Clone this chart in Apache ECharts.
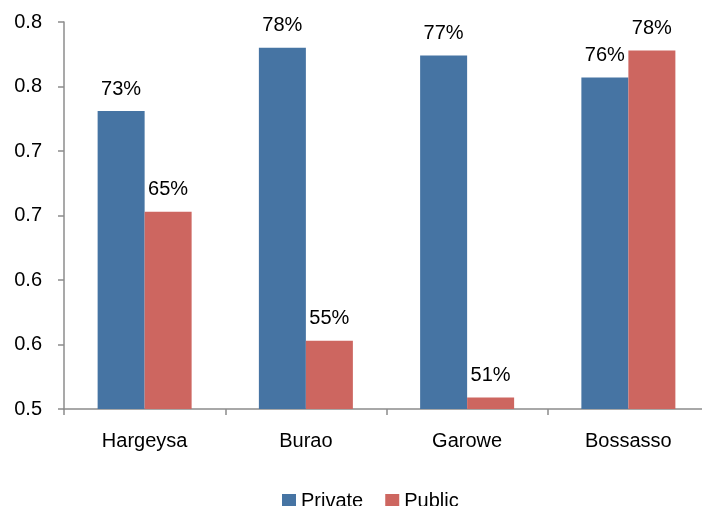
<!DOCTYPE html>
<html><head><meta charset="utf-8">
<script src="https://cdn.jsdelivr.net/npm/echarts@6/dist/echarts.min.js"></script>
<style>html,body{margin:0;padding:0;background:#fff}#c{width:702px;height:506px}</style>
</head><body><div id="c"></div>
<script>
const categories = ['Hargeysa', 'Burao', 'Garowe', 'Bossasso'];
const privateVals = [0.731, 0.780, 0.774, 0.757];
const publicVals = [0.653, 0.553, 0.509, 0.778];
const yTickLabels = ['0.5', '0.6', '0.6', '0.7', '0.7', '0.8', '0.8'];
const seriesNames = ['Private', 'Public'];

const font = 'Liberation Sans, Arial, sans-serif';
const chart = echarts.init(document.getElementById('c'), null, {renderer: 'canvas'});
const lbl = {
  show: true, position: 'top', distance: 12, color: '#000', fontSize: 20, fontFamily: font,
  formatter: p => Math.round(p.value * 100) + '%'
};
chart.setOption({
  animation: false,
  grid: {left: 64, top: 22, width: 645, height: 387, containLabel: false, outerBoundsMode: 'none'},
  legend: {
    top: 486, left: 277, itemWidth: 14, itemHeight: 14, itemGap: 22,
    icon: 'rect', textStyle: {fontSize: 20, fontFamily: font, color: '#000'},
    data: seriesNames
  },
  xAxis: {
    type: 'category', data: categories,
    axisLine: {lineStyle: {color: '#8c8c8c', width: 1.5}},
    axisTick: {show: true, length: 6, lineStyle: {color: '#8c8c8c', width: 1.5}},
    axisLabel: {fontSize: 20, fontFamily: font, color: '#000', margin: 22}
  },
  yAxis: {
    type: 'value', min: 0.5, max: 0.8, interval: 0.05,
    splitLine: {show: false},
    axisLine: {show: true, lineStyle: {color: '#8c8c8c', width: 1.5}},
    axisTick: {show: true, length: 6, lineStyle: {color: '#8c8c8c', width: 1.5}},
    axisLabel: {fontSize: 20, fontFamily: font, color: '#000', margin: 22,
      formatter: (v, i) => yTickLabels[i]}
  },
  series: [
    {name: seriesNames[0], type: 'bar', data: privateVals, barWidth: 47, barGap: '0%',
     itemStyle: {color: '#4674A3'}, label: lbl},
    {name: seriesNames[1], type: 'bar', data: publicVals, barWidth: 47, barGap: '0%',
     itemStyle: {color: '#CD6660'}, label: lbl}
  ]
});
</script></body></html>
